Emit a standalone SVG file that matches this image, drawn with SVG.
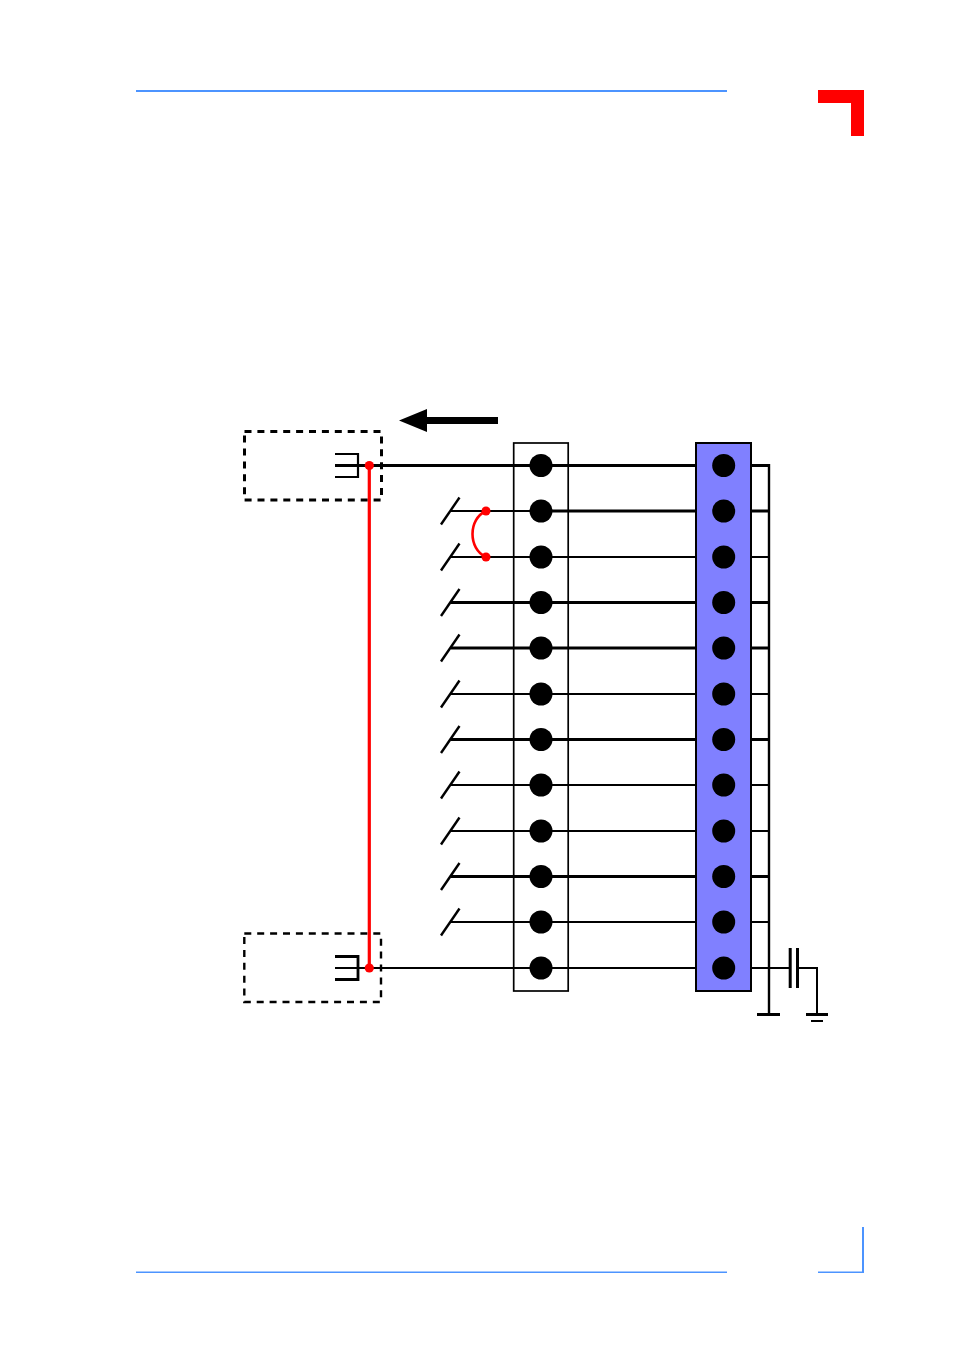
<svg xmlns="http://www.w3.org/2000/svg" width="954" height="1351" viewBox="0 0 954 1351">
<defs><style>
.w{stroke:#000;fill:none;stroke-width:2}
.t{stroke:#000;fill:none;stroke-width:3}
.d{stroke:#000;fill:none;stroke-dasharray:7 5.9}
.p{fill:#000}
.r{fill:#f00}
.b{fill:#4c94ff}
</style>
<circle id="pin" r="11.5" fill="#000"/>
<path id="sw" d="M441 13.5L459.5-13.5" stroke="#000" stroke-width="2.4" fill="none"/>
</defs>
<rect width="954" height="1351" fill="#fff"/>
<g id="page-frame">
<rect class="b" x="136" y="90" width="591" height="2"/>
<path id="corner-mark" d="M818 90H864V136H851V103H818Z" fill="#f00"/>
<rect class="b" x="136" y="1271.5" width="591" height="1.5"/>
<rect class="b" x="818" y="1271.5" width="45" height="1.5"/>
<rect class="b" x="862" y="1227" width="2" height="46"/>
</g>
<g id="connectors">
<path class="t" d="M335 465.5H769"/>
<path class="w" d="M451 511H541"/><path class="t" d="M541 511H769"/>
<path class="w" d="M451 557H769"/>
<path class="t" d="M451 602.5H769"/>
<path class="t" d="M451 648H769"/>
<path class="w" d="M451 694H769"/>
<path class="t" d="M451 739.5H769"/>
<path class="w" d="M451 785H769"/>
<path class="w" d="M451 831H769"/>
<path class="t" d="M451 876.5H769"/>
<path class="w" d="M451 922H769"/>
<path class="w" d="M335 968H790"/>
<path class="t" d="M769 464V1014" style="stroke-width:2.4"/>
<path class="t" d="M757 1014.5H780"/>
<path class="w" d="M797 968H817V1014"/>
<path class="t" d="M806 1014.5H828"/>
<path class="t" d="M811 1021H823" style="stroke-width:2"/>
<use href="#sw" y="511"/><use href="#sw" y="557"/><use href="#sw" y="602.5"/><use href="#sw" y="648"/><use href="#sw" y="694"/><use href="#sw" y="739.5"/><use href="#sw" y="785"/><use href="#sw" y="831"/><use href="#sw" y="876.5"/><use href="#sw" y="922"/>
</g>
<g id="box-top">
<rect class="d" x="244.5" y="431.5" width="137" height="68.5" stroke-width="3"/>
<path class="w" d="M335 454H358V477H335" style="stroke-width:2.2"/>
</g>
<g id="box-bottom">
<rect class="d" x="244.3" y="933.5" width="136.7" height="68.5" stroke-width="2.4"/>
<path class="w" d="M335 956.5H358V979.5H335" style="stroke-width:2.8"/>
</g>
<g id="direction-arrow">
<path class="p" d="M399 420.5L427 409V417H498V424H427V432Z"/>
</g>
<g id="strip-white">
<rect x="513.7" y="443" width="54.5" height="548" fill="none" stroke="#000" stroke-width="1.7"/>
<use href="#pin" x="541" y="465.5"/><use href="#pin" x="541" y="511"/><use href="#pin" x="541" y="557"/><use href="#pin" x="541" y="602.5"/><use href="#pin" x="541" y="648"/><use href="#pin" x="541" y="694"/><use href="#pin" x="541" y="739.5"/><use href="#pin" x="541" y="785"/><use href="#pin" x="541" y="831"/><use href="#pin" x="541" y="876.5"/><use href="#pin" x="541" y="922"/><use href="#pin" x="541" y="968"/>
</g>
<g id="strip-blue">
<rect x="696" y="443" width="55" height="548" fill="#8080ff" stroke="#000" stroke-width="2"/>
<use href="#pin" x="723.7" y="465.5"/><use href="#pin" x="723.7" y="511"/><use href="#pin" x="723.7" y="557"/><use href="#pin" x="723.7" y="602.5"/><use href="#pin" x="723.7" y="648"/><use href="#pin" x="723.7" y="694"/><use href="#pin" x="723.7" y="739.5"/><use href="#pin" x="723.7" y="785"/><use href="#pin" x="723.7" y="831"/><use href="#pin" x="723.7" y="876.5"/><use href="#pin" x="723.7" y="922"/><use href="#pin" x="723.7" y="968"/>
</g>
<g id="capacitor">
<rect class="p" x="788.7" y="948" width="3" height="40"/>
<rect class="p" x="796" y="948" width="3" height="40"/>
</g>
<g id="red-links">
<path d="M369.3 465.5V968" stroke="#f00" stroke-width="3.2" fill="none"/>
<circle class="r" cx="369.3" cy="465.5" r="4.6"/>
<circle class="r" cx="369.3" cy="968" r="4.6"/>
<path d="M486 511C468 519 468 549 486 557" stroke="#f00" stroke-width="2.6" fill="none"/>
<circle class="r" cx="486" cy="511" r="4.5"/>
<circle class="r" cx="486" cy="557" r="4.5"/>
</g>
</svg>
